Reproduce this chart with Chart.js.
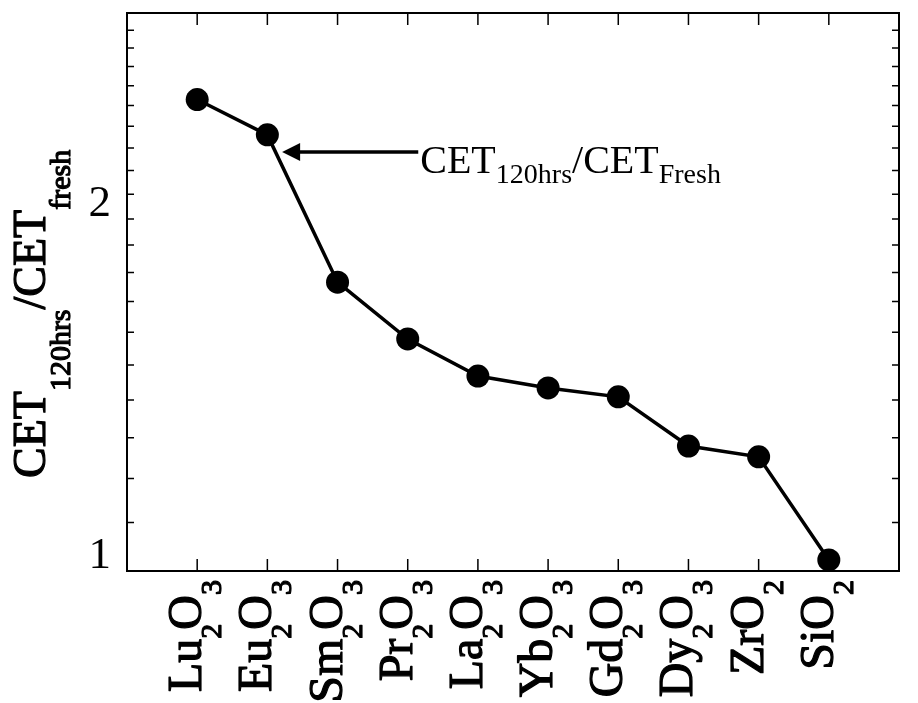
<!DOCTYPE html>
<html>
<head>
<meta charset="utf-8">
<script src="https://cdn.jsdelivr.net/npm/chart.js@4.4.0/dist/chart.umd.min.js"></script>
<style>
  html, body { margin: 0; padding: 0; background: #fff; }
  #wrap { width: 918px; height: 703px; position: relative; }
</style>
</head>
<body>
<div id="wrap"><canvas id="grafico"></canvas></div>
<script>
// dados do grafico
const categorias = ["Lu2O3", "Eu2O3", "Sm2O3", "Pr2O3", "La2O3", "Yb2O3", "Gd2O3", "Dy2O3", "ZrO2", "SiO2"];
const razaoCET = [2.53, 2.36, 1.766, 1.579, 1.468, 1.434, 1.409, 1.279, 1.252, 1.022];
const yTicks = [1, 1.1, 1.2, 1.3, 1.4, 1.5, 1.6, 1.7, 1.8, 1.9, 2, 2.1, 2.2, 2.3, 2.4, 2.5, 2.6, 2.7, 2.8, 2.9, 3];
const yTickLabels = { 1: "1", 2: "2" };
const tituloY = [["CET", false], ["120hrs", true], ["/CET", false], ["fresh", true]];
const anotacao = [["CET", false], ["120hrs", true], ["/CET", false], ["Fresh", true]];
const setaPonta = { x: 1.21, y: 2.282 }; // ponta da seta (coordenadas dos dados)
const setaFim = { x: 3.15, y: 2.282 };

const FONTE = '"Liberation Serif", "Times New Roman", serif';

// quebra "Lu2O3" em partes: letras normais, numeros subscritos
function partesFormula(txt) {
  return txt.match(/[A-Za-z]+|\d+/g).map((p) => [p, /\d/.test(p)]);
}

// desenha texto com subscritos a partir de x (baseline em y)
function desenhaTexto(ctx, partes, x, y, tam, tamSub, desloc, kern, contorno) {
  partes.forEach(([t, sub], i) => {
    ctx.font = (sub ? tamSub : tam) + "px " + FONTE;
    const yy = sub ? y + desloc : y;
    ctx.fillText(t, x, yy);
    if (contorno) ctx.strokeText(t, x, yy); // deixa a letra mais grossa
    x += ctx.measureText(t).width;
    if (sub && i < partes.length - 1) x += kern;
  });
  return x;
}

function larguraTexto(ctx, partes, tam, tamSub, kern) {
  let w = 0;
  partes.forEach(([t, sub], i) => {
    ctx.font = (sub ? tamSub : tam) + "px " + FONTE;
    w += ctx.measureText(t).width;
    if (sub && i < partes.length - 1) w += kern;
  });
  return w;
}

const moldura = {
  id: "moldura",
  beforeDatasetsDraw(chart) {
    const { ctx, chartArea: a, scales } = chart;
    ctx.save();
    ctx.strokeStyle = "#000";
    ctx.lineWidth = 1.5;
    // ticks para dentro
    categorias.forEach((c, i) => {
      const px = scales.x.getPixelForValue(i);
      ctx.beginPath();
      ctx.moveTo(px, a.bottom);
      ctx.lineTo(px, a.bottom - 12);
      ctx.moveTo(px, a.top);
      ctx.lineTo(px, a.top + 12);
      ctx.stroke();
    });
    yTicks.forEach((v) => {
      const py = scales.y.getPixelForValue(v);
      ctx.beginPath();
      ctx.moveTo(a.left, py);
      ctx.lineTo(a.left + 7, py);
      ctx.moveTo(a.right, py);
      ctx.lineTo(a.right - 7, py);
      ctx.stroke();
    });
    ctx.lineWidth = 2;
    ctx.strokeRect(a.left, a.top, a.right - a.left, a.bottom - a.top);
    ctx.restore();
  },
  afterDraw(chart) {
    const { ctx, chartArea: a, scales } = chart;
    ctx.save();
    ctx.fillStyle = "#000";
    ctx.strokeStyle = "#000";
    ctx.textBaseline = "alphabetic";
    ctx.textAlign = "left";
    ctx.lineJoin = "round";

    // rotulos do eixo x (girados)
    ctx.lineWidth = 1.2;
    categorias.forEach((c, i) => {
      const px = scales.x.getPixelForValue(i);
      const partes = partesFormula(c);
      const w = larguraTexto(ctx, partes, 48, 30, -6);
      ctx.save();
      ctx.translate(px + 4, a.bottom + 9);
      ctx.rotate(-Math.PI / 2);
      desenhaTexto(ctx, partes, -w, 0, 48, 30, 20, -6, true);
      ctx.restore();
    });

    // titulo do eixo y
    ctx.save();
    ctx.translate(45, a.bottom - 93);
    ctx.rotate(-Math.PI / 2);
    ctx.lineWidth = 1.2;
    desenhaTexto(ctx, tituloY, 0, 0, 46, 30, 25, 0, true);
    ctx.restore();

    // seta + texto
    const x0 = scales.x.getPixelForValue(setaPonta.x);
    const y0 = scales.y.getPixelForValue(setaPonta.y);
    const x1 = scales.x.getPixelForValue(setaFim.x);
    ctx.lineWidth = 3.5;
    ctx.beginPath();
    ctx.moveTo(x0 + 14, y0);
    ctx.lineTo(x1, y0);
    ctx.stroke();
    ctx.beginPath();
    ctx.moveTo(x0, y0);
    ctx.lineTo(x0 + 18, y0 - 9);
    ctx.lineTo(x0 + 18, y0 + 9);
    ctx.closePath();
    ctx.fill();
    desenhaTexto(ctx, anotacao, x1 + 2, y0 + 21, 40, 28, 10, 0, false);

    ctx.restore();
  },
};

function grafico() {
  const ctx = document.getElementById("grafico").getContext("2d");

  new Chart(ctx, {
    type: "line",
    data: {
      datasets: [
        {
          data: razaoCET.map((v, i) => ({ x: i, y: v })),
          borderColor: "#000",
          backgroundColor: "#000",
          borderWidth: 3.5,
          pointRadius: 11.5,
          pointBorderWidth: 0,
          pointBackgroundColor: "#000",
          tension: 0,
          clip: false,
        },
      ],
    },
    options: {
      responsive: true,
      maintainAspectRatio: false,
      animation: false,
      devicePixelRatio: 1,
      layout: { padding: { top: 13, right: 19, bottom: 132, left: 0 } },
      plugins: {
        legend: { display: false },
        tooltip: { enabled: false },
      },
      scales: {
        x: {
          type: "linear",
          min: -1,
          max: 10,
          display: false,
        },
        y: {
          type: "logarithmic",
          min: 1,
          max: 3,
          afterFit(scale) {
            scale.width = 127;
            scale.paddingTop = 0;
            scale.paddingBottom = 0;
          },
          afterBuildTicks(scale) {
            scale.ticks = yTicks.map((v) => ({ value: v }));
          },
          grid: { display: false, drawTicks: false },
          border: { display: false },
          ticks: {
            autoSkip: false,
            color: "#000",
            padding: 16,
            labelOffset: -15,
            font: { family: FONTE, size: 45 },
            callback: (v) => yTickLabels[v] || "",
          },
        },
      },
    },
    plugins: [moldura],
  });
}

grafico();
</script>
</body>
</html>
